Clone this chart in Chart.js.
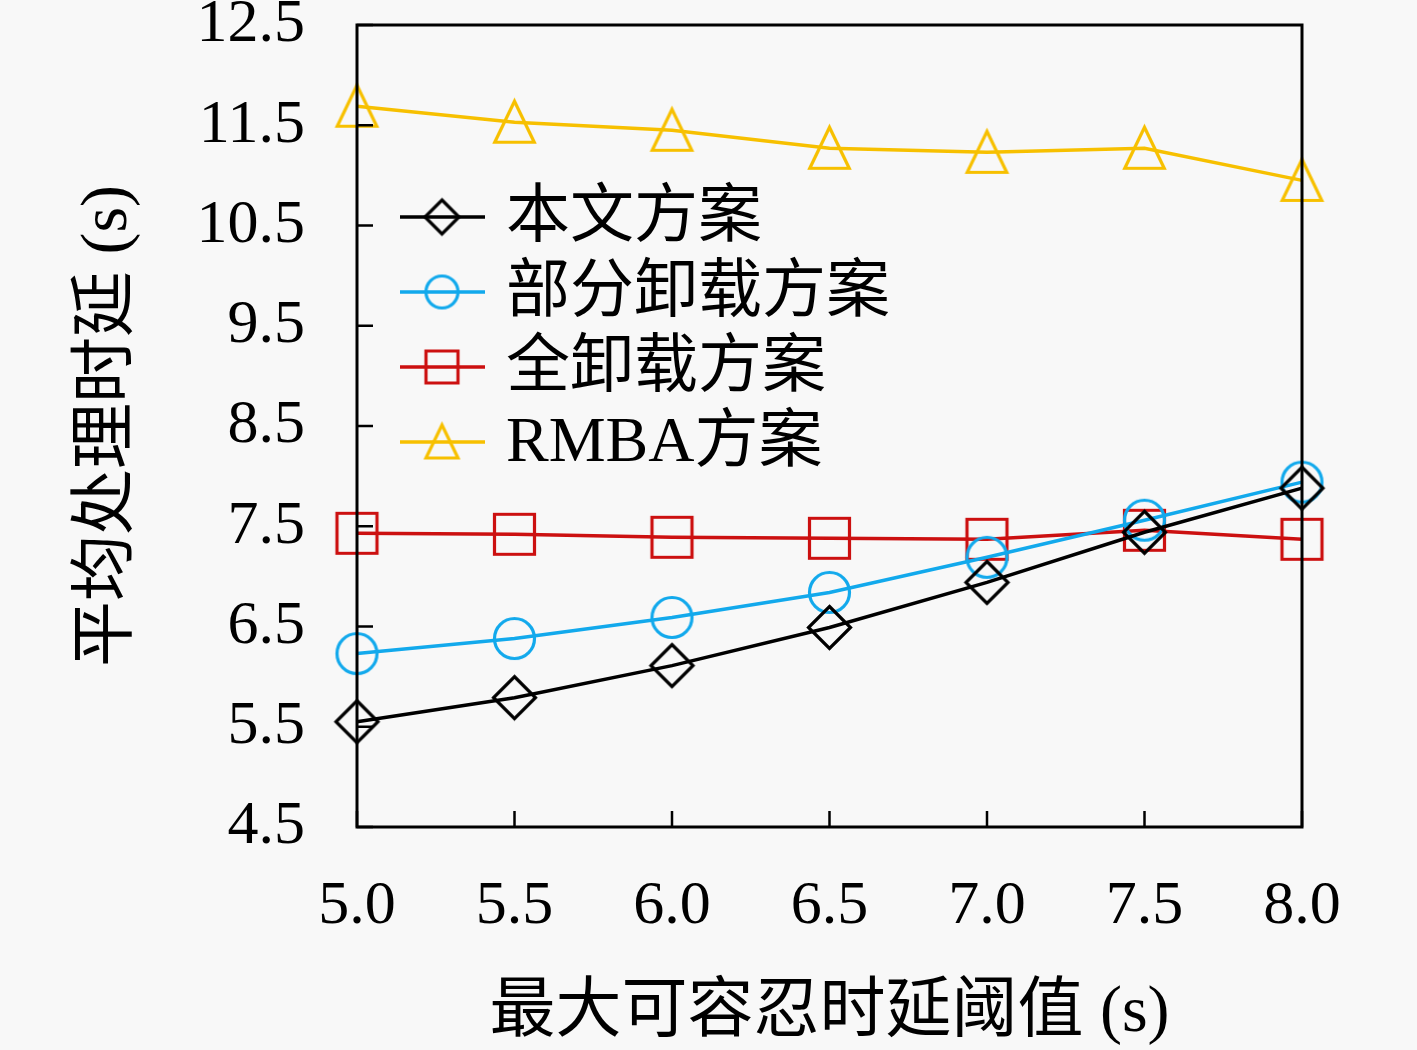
<!DOCTYPE html>
<html>
<head>
<meta charset="utf-8">
<script src="https://cdn.jsdelivr.net/npm/chart.js@4.4.1/dist/chart.umd.min.js"></script>
<style>
  html, body { margin: 0; padding: 0; background: #f8f8f8; }
  #wrap { width: 1417px; height: 1050px; }
</style>
</head>
<body>
<div id="wrap"><canvas id="c" width="1417" height="1050"></canvas></div>
<script>
// ---- data ----
const thresholds = [5.0, 5.5, 6.0, 6.5, 7.0, 7.5, 8.0];
const proposed   = [5.55, 5.79, 6.11, 6.49, 6.94, 7.44, 7.88];
const partial    = [6.23, 6.38, 6.59, 6.84, 7.19, 7.56, 7.94];
const fullOff    = [7.43, 7.42, 7.39, 7.38, 7.37, 7.46, 7.37];
const rmba       = [11.69, 11.53, 11.45, 11.27, 11.23, 11.27, 10.95];
const seriesNames = ['本文方案', '部分卸载方案', '全卸载方案', 'RMBA方案'];
const xTicks = [5.0, 5.5, 6.0, 6.5, 7.0, 7.5, 8.0];
const yTicks = [4.5, 5.5, 6.5, 7.5, 8.5, 9.5, 10.5, 11.5, 12.5];
const xTitle = '最大可容忍时延阈值 (s)';
const yTitle = '平均处理时延 (s)';

// ---- styles ----
const colors = ['#000000', '#12a9ec', '#cc1010', '#f7c000'];
const shapes = ['diamond', 'circle', 'square', 'triangle'];
const FONT = '"Liberation Serif", "Noto Sans CJK SC", serif';

function makeMarker(shape, color, s) {
  const c = document.createElement('canvas');
  const size = Math.ceil(s * 1.25);
  c.width = size; c.height = size;
  const g = c.getContext('2d');
  g.strokeStyle = color; g.lineWidth = 3.2;
  const cx = size / 2, cy = size / 2, h = s / 2;
  g.beginPath();
  if (shape === 'diamond') {
    g.moveTo(cx, cy - h); g.lineTo(cx + h, cy); g.lineTo(cx, cy + h); g.lineTo(cx - h, cy); g.closePath();
  } else if (shape === 'circle') {
    g.arc(cx, cy, h - 1, 0, Math.PI * 2);
  } else if (shape === 'square') {
    g.rect(cx - h + 1, cy - h + 1, s - 2, s - 2);
  } else {
    const w = s * 0.47;
    g.moveTo(cx, cy - h); g.lineTo(cx + w, cy + h - 1); g.lineTo(cx - w, cy + h - 1); g.closePath();
  }
  g.stroke();
  return c;
}
const markers = shapes.map((sh, i) => makeMarker(sh, colors[i], 42));
const legendMarkers = shapes.map((sh, i) => makeMarker(sh, colors[i], 34));

const seriesValues = [proposed, partial, fullOff, rmba];
const datasets = seriesValues.map((vals, i) => ({
  label: seriesNames[i],
  data: thresholds.map((x, k) => ({ x: x, y: vals[k] })),
  borderColor: colors[i],
  backgroundColor: 'transparent',
  borderWidth: 3.5,
  pointStyle: markers[i],
  pointRadius: 21,
  tension: 0,
  clip: false
}));

const framePlugin = {
  id: 'frame',
  afterDatasetsDraw(chart) {
    const { ctx, chartArea: a, scales } = chart;
    ctx.save();
    ctx.strokeStyle = '#000';
    ctx.lineWidth = 3;
    ctx.strokeRect(a.left, a.top, a.right - a.left, a.bottom - a.top);
    ctx.lineWidth = 2.5;
    ctx.beginPath();
    scales.x.ticks.forEach(t => {
      const px = scales.x.getPixelForValue(t.value);
      ctx.moveTo(px, a.bottom); ctx.lineTo(px, a.bottom - 16);
    });
    scales.y.ticks.forEach(t => {
      const py = scales.y.getPixelForValue(t.value);
      ctx.moveTo(a.left, py); ctx.lineTo(a.left + 16, py);
    });
    ctx.stroke();

    // legend
    const lx0 = a.left + 43, lx1 = a.left + 128, mx = a.left + 85, tx = a.left + 149;
    const ly0 = a.top + 192, dy = 75;
    ctx.font = '64px ' + FONT;
    ctx.textBaseline = 'middle';
    ctx.textAlign = 'left';
    seriesNames.forEach((name, i) => {
      const y = ly0 + i * dy;
      ctx.strokeStyle = colors[i];
      ctx.lineWidth = 3.5;
      ctx.beginPath(); ctx.moveTo(lx0, y); ctx.lineTo(lx1, y); ctx.stroke();
      const m = legendMarkers[i];
      ctx.drawImage(m, mx - m.width / 2, y - m.height / 2);
      ctx.fillStyle = '#000';
      ctx.fillText(name, tx, y + 2);
    });
    ctx.restore();
  }
};

const bgPlugin = {
  id: 'bg',
  beforeDraw(chart) {
    const { ctx, width, height } = chart;
    ctx.save(); ctx.fillStyle = '#f8f8f8'; ctx.fillRect(0, 0, width, height); ctx.restore();
  }
};

new Chart(document.getElementById('c'), {
  type: 'line',
  data: { datasets },
  plugins: [bgPlugin, framePlugin],
  options: {
    responsive: false,
    animation: false,
    devicePixelRatio: 1,
    layout: { padding: { top: 25, right: 115, left: 0, bottom: 0 } },
    plugins: { legend: { display: false }, tooltip: { enabled: false } },
    scales: {
      x: {
        type: 'linear',
        min: 5, max: 8,
        afterBuildTicks: s => { s.ticks = xTicks.map(v => ({ value: v })); },
        afterFit: s => { s.height = 223; s.paddingLeft = 0; s.paddingRight = 0; },
        grid: { display: false, drawTicks: false },
        border: { display: false },
        ticks: { color: '#000', font: { family: FONT, size: 62 }, padding: 43, maxRotation: 0,
                 callback: v => Number(v).toFixed(1) },
        title: { display: true, text: xTitle, color: '#000', font: { family: FONT, size: 66, lineHeight: 1.1 }, padding: { top: 0, bottom: 0 } }
      },
      y: {
        type: 'linear',
        min: 4.5, max: 12.5,
        afterBuildTicks: s => { s.ticks = yTicks.map(v => ({ value: v })); },
        afterFit: s => { s.width = 357; s.paddingTop = 0; s.paddingBottom = 0; },
        grid: { display: false, drawTicks: false },
        border: { display: false },
        ticks: { color: '#000', font: { family: FONT, size: 62 }, padding: 52,
                 callback: v => Number(v).toFixed(1) },
        title: { display: true, text: yTitle, color: '#000', font: { family: FONT, size: 66, lineHeight: 1.1 }, padding: { top: 72, bottom: 0 } }
      }
    }
  }
});
</script>
</body>
</html>
